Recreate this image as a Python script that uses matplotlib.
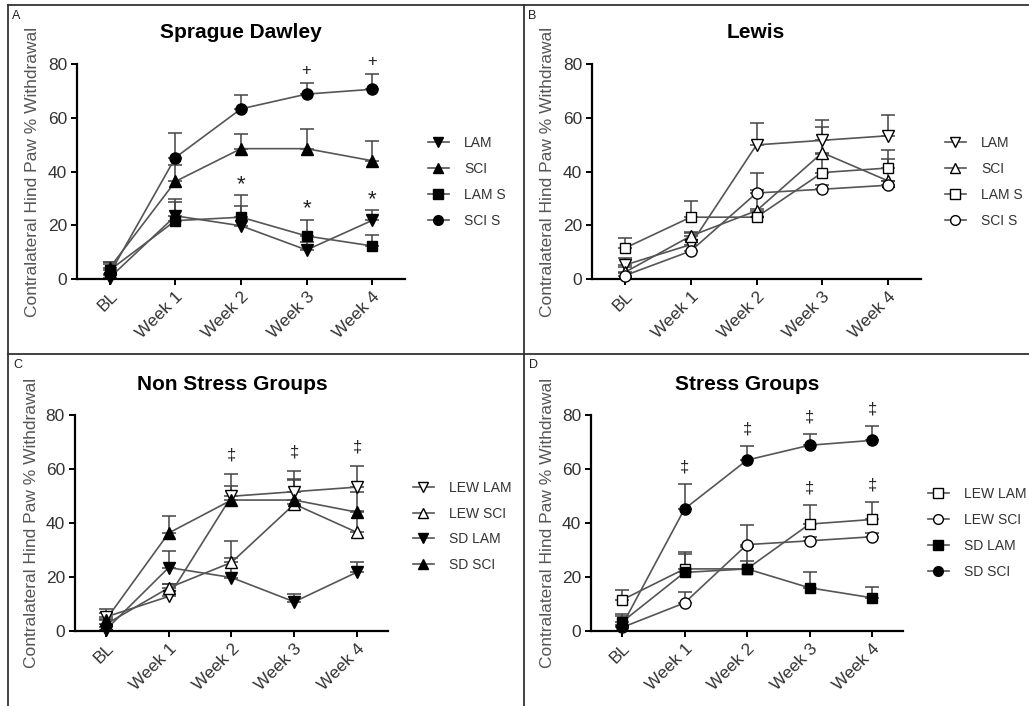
import matplotlib
matplotlib.use("Agg")
import matplotlib.pyplot as plt
from matplotlib.lines import Line2D

plt.rcParams['font.family'] = ['Liberation Sans', 'DejaVu Sans']

weeks = ["BL", "Week 1", "Week 2", "Week 3", "Week 4"]

# Sprague Dawley: mean % withdrawal and upper SEM
sd_lam = [0.5, 23.5, 19.8, 10.8, 21.8]
sd_lam_err = [1.0, 6.2, 7.4, 3.0, 3.8]
sd_sci = [4.2, 36.3, 48.5, 48.5, 44.0]
sd_sci_err = [2.3, 6.3, 5.3, 7.4, 7.3]
sd_lam_s = [3.3, 21.7, 23.0, 16.0, 12.3]
sd_lam_s_err = [3.0, 6.8, 8.1, 6.0, 4.0]
sd_sci_s = [2.0, 45.2, 63.3, 68.8, 70.6]
sd_sci_s_err = [3.5, 9.2, 5.3, 4.1, 5.5]

# Lewis: mean % withdrawal and upper SEM
lew_lam = [5.2, 12.8, 49.9, 51.6, 53.3]
lew_lam_err = [2.8, 4.5, 8.1, 7.7, 7.9]
lew_sci = [2.5, 16.0, 25.4, 47.0, 36.5]
lew_sci_err = [2.0, 1.5, 7.8, 9.4, 8.0]
lew_lam_s = [11.5, 23.0, 23.0, 39.6, 41.3]
lew_lam_s_err = [3.8, 6.1, 3.0, 7.0, 6.6]
lew_sci_s = [1.3, 10.4, 32.0, 33.4, 34.9]
lew_sci_s_err = [1.0, 4.0, 7.3, 1.5, 1.5]

# significance marks: week indices
sd_plus_weeks = [3, 4]
sd_star_weeks = [2, 3, 4]
nonstress_dagger_weeks = [2, 3, 4]
stress_sci_dagger_weeks = [1, 2, 3, 4]
stress_lam_dagger_weeks = [3, 4]

W, H = 1029, 706
fig = plt.figure(figsize=(W / 100, H / 100), dpi=100)

LINE_C = '#555555'
TEXT_C = '#333333'


def px_axes(left, right, top, bottom):
    return fig.add_axes([left / W, 1 - bottom / H, (right - left) / W, (bottom - top) / H])


def series(y, err, marker, filled, label):
    return dict(y=y, err=err, marker=marker, filled=filled, label=label)


def draw_panel(ax, items, title, title_xy, letter, letter_xy, leg_xy):
    x = list(range(len(weeks)))
    for s in items:
        ax.errorbar(x, s['y'], yerr=[[0] * len(x), s['err']], fmt='none',
                    ecolor='#444444', elinewidth=1.1, capsize=5, capthick=1.1,
                    zorder=2, clip_on=False)
        ax.plot(x, s['y'], color=LINE_C, lw=1.2, zorder=2.5, clip_on=False)
    for s in items:
        fc = 'black' if s['filled'] else 'white'
        ax.plot(x, s['y'], linestyle='none', marker=s['marker'], ms=8 if s['marker'] != 's' else 7.5,
                mfc=fc, mec='black', mew=1.0, zorder=3, clip_on=False)
    ax.set_xlim(-0.5, 4.5)
    ax.set_ylim(0, 80)
    ax.set_yticks([0, 20, 40, 60, 80])
    ax.set_xticks(x)
    ax.set_xticklabels(weeks, rotation=45, ha='right', va='top', rotation_mode='anchor')
    for sp in ['top', 'right']:
        ax.spines[sp].set_visible(False)
    for sp in ['left', 'bottom']:
        ax.spines[sp].set_linewidth(1.6)
    ax.tick_params(axis='both', direction='out', length=4, width=1.4,
                   labelsize=12.5, labelcolor=TEXT_C, pad=3)
    ax.set_ylabel('Contralateral Hind Paw % Withdrawal', fontsize=12.5, color='#555555')
    ax.yaxis.set_label_coords(-0.113, 0.5)
    fig.text(title_xy[0] / W, 1 - title_xy[1] / H, title, fontsize=15, fontweight='bold',
             ha='center', va='center', color='black')
    fig.text(letter_xy[0] / W, 1 - letter_xy[1] / H, letter, fontsize=9,
             ha='left', va='center', color='#222222')
    handles = []
    for s in items:
        fc = 'black' if s['filled'] else 'white'
        handles.append(Line2D([], [], color=LINE_C, lw=1.2, marker=s['marker'],
                              ms=7 if s['marker'] != 's' else 6.5, mfc=fc, mec='black',
                              mew=1.0, label=s['label']))
    ax.legend(handles=handles, loc='center left', bbox_to_anchor=leg_xy, frameon=False,
              fontsize=10, labelcolor=TEXT_C, handlelength=1.5, handletextpad=1.1,
              labelspacing=0.85, borderpad=0, borderaxespad=0)


def mark(ax, weeks_idx, groups, symbol, offset, size):
    for w in weeks_idx:
        top = max(g['y'][w] + g['err'][w] for g in groups)
        ax.text(w, top + offset, symbol, ha='center', va='center', fontsize=size,
                color='#222222', clip_on=False)


# A: Sprague Dawley
A_lam = series(sd_lam, sd_lam_err, 'v', True, 'LAM')
A_sci = series(sd_sci, sd_sci_err, '^', True, 'SCI')
A_lam_s = series(sd_lam_s, sd_lam_s_err, 's', True, 'LAM S')
A_sci_s = series(sd_sci_s, sd_sci_s_err, 'o', True, 'SCI S')
axA = px_axes(77, 405, 64, 279)
draw_panel(axA, [A_lam, A_sci, A_lam_s, A_sci_s], 'Sprague Dawley', (241, 33),
           'A', (12, 16), (1.07, 0.451))
mark(axA, sd_plus_weeks, [A_sci_s], '+', 4.8, 12)
mark(axA, sd_star_weeks, [A_lam, A_lam_s], '*', 4.0, 16)

# B: Lewis
B_lam = series(lew_lam, lew_lam_err, 'v', False, 'LAM')
B_sci = series(lew_sci, lew_sci_err, '^', False, 'SCI')
B_lam_s = series(lew_lam_s, lew_lam_s_err, 's', False, 'LAM S')
B_sci_s = series(lew_sci_s, lew_sci_s_err, 'o', False, 'SCI S')
axB = px_axes(592, 921, 64, 279)
draw_panel(axB, [B_lam, B_sci, B_lam_s, B_sci_s], 'Lewis', (756, 33),
           'B', (528, 16), (1.073, 0.451))

# C: non stress groups
C_items = [series(lew_lam, lew_lam_err, 'v', False, 'LEW LAM'),
           series(lew_sci, lew_sci_err, '^', False, 'LEW SCI'),
           series(sd_lam, sd_lam_err, 'v', True, 'SD LAM'),
           series(sd_sci, sd_sci_err, '^', True, 'SD SCI')]
axC = px_axes(74.6, 388.4, 415, 631)
draw_panel(axC, C_items, 'Non Stress Groups', (232, 384), 'C', (13, 365), (1.078, 0.484))
mark(axC, nonstress_dagger_weeks, C_items, '\u2021', 7.0, 12)

# D: stress groups
D_items = [series(lew_lam_s, lew_lam_s_err, 's', False, 'LEW LAM'),
           series(lew_sci_s, lew_sci_s_err, 'o', False, 'LEW SCI'),
           series(sd_lam_s, sd_lam_s_err, 's', True, 'SD LAM'),
           series(sd_sci_s, sd_sci_s_err, 'o', True, 'SD SCI')]
axD = px_axes(590.75, 903.25, 415, 631)
draw_panel(axD, D_items, 'Stress Groups', (747, 384), 'D', (529, 365), (1.079, 0.454))
mark(axD, stress_sci_dagger_weeks, [D_items[3]], '\u2021', 6.3, 12)
mark(axD, stress_lam_dagger_weeks, [D_items[0]], '\u2021', 6.3, 12)

# panel frame
frame_kw = dict(color='#333333', lw=1.3, transform=fig.transFigure)
fig.add_artist(Line2D([8 / W, 1], [1 - 4.5 / H, 1 - 4.5 / H], **frame_kw))
fig.add_artist(Line2D([8 / W, 8 / W], [0, 1 - 4.5 / H], **frame_kw))
fig.add_artist(Line2D([524 / W, 524 / W], [0, 1 - 4.5 / H], **frame_kw))
fig.add_artist(Line2D([8 / W, 1], [1 - 354 / H, 1 - 354 / H], **frame_kw))

fig.savefig('out.png', dpi=100)
